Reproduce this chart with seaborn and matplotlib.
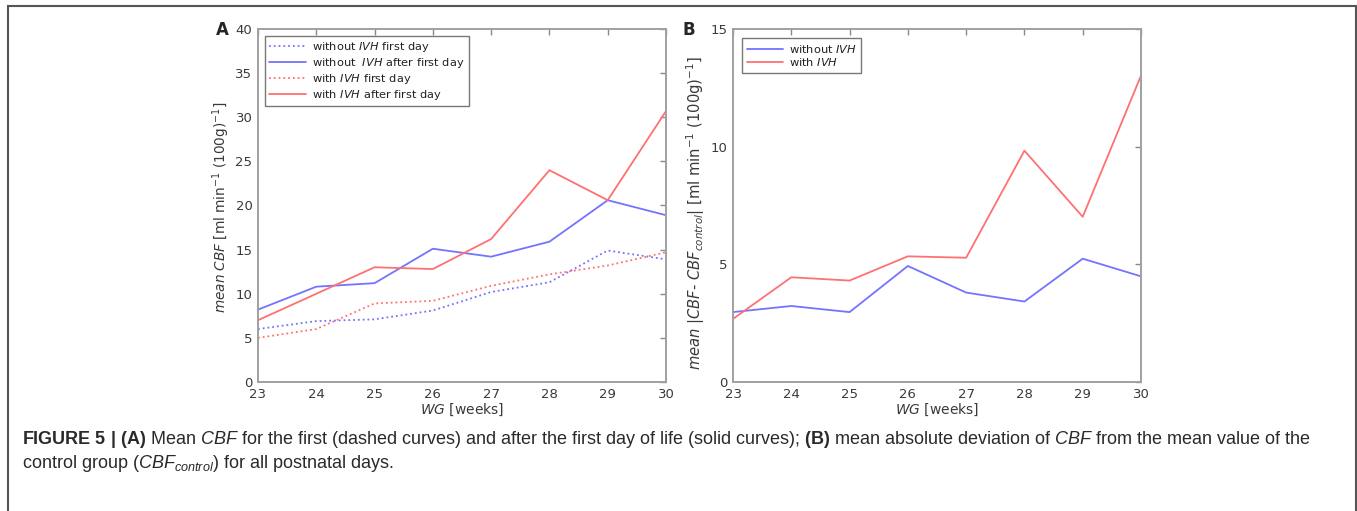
import matplotlib
matplotlib.use("Agg")
import matplotlib.pyplot as plt
import seaborn as sns
from matplotlib.patches import Rectangle

sns.set_style("white")
plt.rcParams['font.family'] = ['DejaVu Sans']
plt.rcParams['mathtext.fontset'] = 'custom'
plt.rcParams['mathtext.rm'] = 'Liberation Sans'
plt.rcParams['mathtext.it'] = 'Liberation Sans:italic'
plt.rcParams['mathtext.bf'] = 'Liberation Sans:bold'

# ---- data ----
weeks = [23, 24, 25, 26, 27, 28, 29, 30]
cbf_without_first = [6.0, 6.9, 7.1, 8.1, 10.2, 11.3, 14.9, 13.9]
cbf_without_after = [8.2, 10.8, 11.2, 15.1, 14.2, 15.9, 20.6, 18.9]
cbf_with_first = [5.0, 6.0, 8.9, 9.2, 10.9, 12.2, 13.2, 14.7]
cbf_with_after = [7.0, 10.0, 13.0, 12.8, 16.2, 24.0, 20.6, 30.7]

dev_without = [2.97, 3.23, 2.97, 4.93, 3.80, 3.42, 5.24, 4.49]
dev_with = [2.68, 4.45, 4.31, 5.34, 5.28, 9.83, 7.02, 13.02]

labels_a = [r"without $\mathit{IVH}$ first day", r"without  $\mathit{IVH}$ after first day",
            r"with $\mathit{IVH}$ first day", r"with $\mathit{IVH}$ after first day"]
labels_b = [r"without $\mathit{IVH}$", r"with $\mathit{IVH}$"]

BLUE = "#7373ff"
RED = "#ff7070"
SPINE = "#a0a0a0"
TXT = "#3a3a3a"

fig = plt.figure(figsize=(13.57, 5.11), dpi=100)
W, H = 1357, 511

def make_ax(x0, x1, y0, y1):
    return fig.add_axes([x0 / W, 1 - y1 / H, (x1 - x0) / W, (y1 - y0) / H])

axA = make_ax(258, 666, 29, 382)
axB = make_ax(733, 1141, 29, 382)

def style(ax):
    for s in ax.spines.values():
        s.set_color(SPINE)
        s.set_linewidth(1.4)
    ax.tick_params(direction="in", length=4, width=1, color="#888888",
                   top=True, right=True, labelsize=9.5, labelcolor=TXT, pad=4)
    ax.set_xlim(23, 30)
    ax.set_xticks(weeks)

# Panel A
series_a = [(cbf_without_first, BLUE, ":"), (cbf_without_after, BLUE, "-"),
            (cbf_with_first, RED, ":"), (cbf_with_after, RED, "-")]
for (vals, col, ls), lab in zip(series_a, labels_a):
    sns.lineplot(x=weeks, y=vals, ax=axA, color=col, linestyle=ls, linewidth=1.3,
                 label=lab, legend=False)
style(axA)
axA.set_ylim(0, 40)
axA.set_yticks(range(0, 41, 5))
axA.set_xlabel("$\\it{WG}$ [weeks]", fontsize=10, color=TXT, labelpad=1,
               math_fontfamily='dejavusans')
axA.set_ylabel(r"$\it{mean}$ $\it{CBF}$ [ml min$^{-1}$ (100g)$^{-1}$]", fontsize=9.8,
               color=TXT, math_fontfamily='dejavusans')
axA.yaxis.set_label_coords(-0.064, 0.494)
legA = axA.legend(loc="upper left", fontsize=8.2, frameon=True, fancybox=False,
                  handlelength=3.2, labelspacing=0.15, borderpad=0.4,
                  handletextpad=0.5, borderaxespad=0.6)
legA.get_frame().set_edgecolor("#555555")
legA.get_frame().set_linewidth(1.0)
for t in legA.get_texts():
    t.set_color("#222222")
    t.set_math_fontfamily('dejavusans')

# Panel B
for vals, col, lab in [(dev_without, BLUE, labels_b[0]), (dev_with, RED, labels_b[1])]:
    sns.lineplot(x=weeks, y=vals, ax=axB, color=col, linewidth=1.3, label=lab, legend=False)
style(axB)
axB.set_ylim(0, 15)
axB.set_yticks([0, 5, 10, 15])
axB.set_xlabel("$\\it{WG}$ [weeks]", fontsize=10, color=TXT, labelpad=1,
               math_fontfamily='dejavusans')
axB.set_ylabel(r"$\it{mean}$ |$\it{CBF}$- $\it{CBF}_{\it{control}}$| [ml min$^{-1}$ (100g)$^{-1}$]",
               fontsize=10.6, color=TXT, math_fontfamily='dejavusans')
axB.yaxis.set_label_coords(-0.064, 0.48)
legB = axB.legend(loc="upper left", fontsize=8.2, frameon=True, fancybox=False,
                  handlelength=3.2, labelspacing=0.15, borderpad=0.4,
                  handletextpad=0.5, borderaxespad=0.8)
legB.get_frame().set_edgecolor("#555555")
legB.get_frame().set_linewidth(1.0)
for t in legB.get_texts():
    t.set_color("#222222")
    t.set_math_fontfamily('dejavusans')

# panel letters
fig.text(216 / W, 1 - 30 / H, "A", fontsize=12, fontweight="bold", va="center", ha="left")
fig.text(683 / W, 1 - 30 / H, "B", fontsize=12, fontweight="bold", va="center", ha="left")

# caption
cap1 = (r"$\mathbf{FIGURE\ 5\ |\ (A)}$ Mean $\mathit{CBF}$ for the first (dashed curves) and after the "
        r"first day of life (solid curves); $\mathbf{(B)}$ mean absolute deviation of $\mathit{CBF}$ "
        r"from the mean value of the")
cap2 = r"control group ($\mathit{CBF}_{\mathit{control}}$) for all postnatal days."
fig.text(22 / W, 1 - 440 / H, cap1, fontsize=12.95, family="Liberation Sans",
         va="center", ha="left", color="#2a2a2a")
fig.text(22 / W, 1 - 463 / H, cap2, fontsize=12.95, family="Liberation Sans",
         va="center", ha="left", color="#2a2a2a")

# outer frame
fig.patches.append(Rectangle((8 / W, -0.05), (1356 - 8) / W, 1.05 - 6 / H,
                             transform=fig.transFigure, fill=False,
                             edgecolor="#555555", linewidth=1.5))

fig.savefig("out.png", dpi=100)
